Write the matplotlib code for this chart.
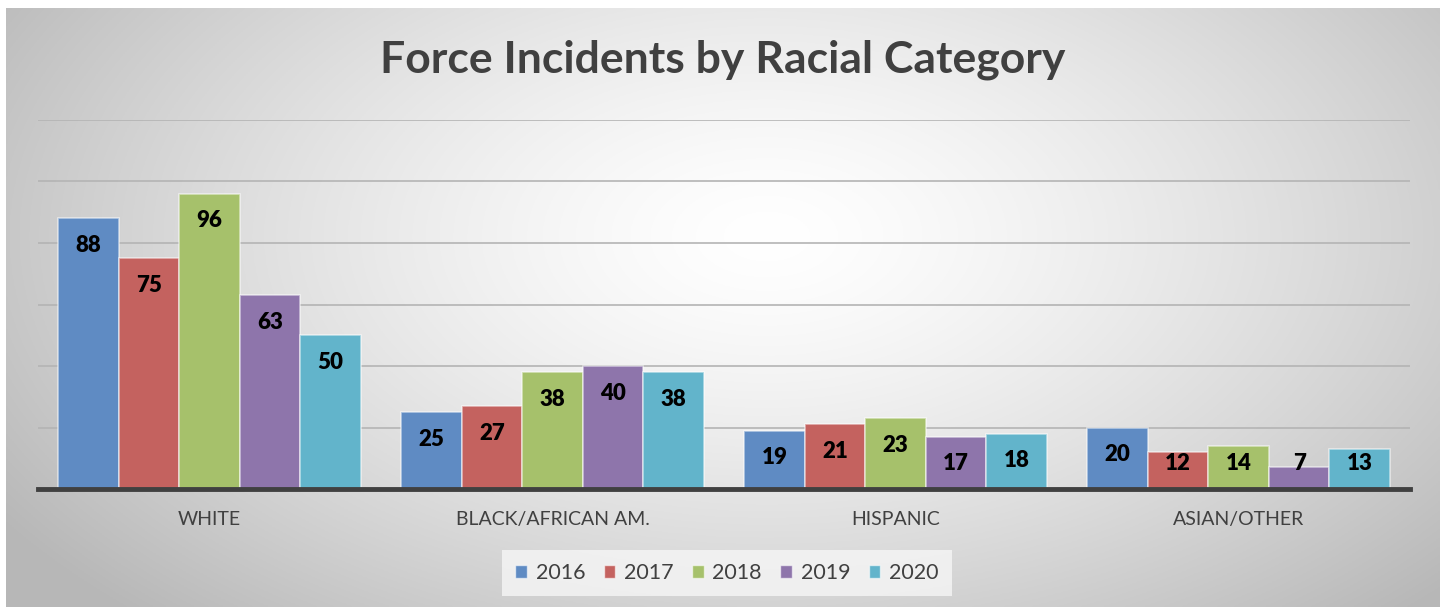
import numpy as np
import matplotlib
matplotlib.use("Agg")
import matplotlib.pyplot as plt
from matplotlib.patches import Patch

categories = ["WHITE", "BLACK/AFRICAN AM.", "HISPANIC", "ASIAN/OTHER"]
years = ["2016", "2017", "2018", "2019", "2020"]
values = {
    "2016": [88, 25, 19, 20],
    "2017": [75, 27, 21, 12],
    "2018": [96, 38, 23, 14],
    "2019": [63, 40, 17, 7],
    "2020": [50, 38, 18, 13],
}
colors = ["#5f8bc3", "#c4625f", "#a6c16b", "#8e75ab", "#62b4cb"]
title = "Force Incidents by Racial Category"

W, H = 1445, 607
fig = plt.figure(figsize=(W / 100, H / 100), dpi=100)
fig.patch.set_facecolor("white")

# radial gradient background
bg = fig.add_axes([6 / W, 0, (1440 - 6) / W, (607 - 8) / H])
bg.set_axis_off()
ny, nx = 300, 700
yy, xx = np.mgrid[0:ny, 0:nx]
cx, cy = 0.53 * nx, 0.38 * ny
d = np.sqrt(((xx - cx) / (0.62 * nx)) ** 2 + ((yy - cy) / (0.85 * ny)) ** 2)
val = 1.0 - 0.27 * np.clip(d, 0, 1.2) ** 1.4
val = np.clip(val, 0.72, 1.0)
img = np.dstack([val, val, val])
bg.imshow(img, aspect="auto", extent=[0, 1, 0, 1], origin="upper")
bg.set_xlim(0, 1)
bg.set_ylim(0, 1)

ax = fig.add_axes([38 / W, (H - 489) / H, (1410 - 38) / W, (489 - 120) / H])
ax.patch.set_alpha(0)
x = np.arange(len(categories))
w = 0.1766
for i, yr in enumerate(years):
    vals = values[yr]
    pos = x + (i - 2) * w
    ax.bar(pos, vals, width=w, color=colors[i], edgecolor=(1, 1, 1, 0.55),
           linewidth=1.2, zorder=3)
    for px, v in zip(pos, vals):
        yc = max(v - 8.8, 8.4)
        ax.text(px, yc, str(v), ha="center", va="center", fontsize=16,
                fontweight="heavy", color="black", family="Lato", zorder=4)

ax.set_xlim(-0.5, len(categories) - 0.5)
ax.set_ylim(0, 120)
ax.set_yticks(np.arange(0, 121, 20))
ax.yaxis.grid(True, color="#b4b4b4", linewidth=1.2, zorder=0)
ax.set_axisbelow(True)
ax.tick_params(axis="y", length=0, labelleft=False)
for s in ["top", "right", "left"]:
    ax.spines[s].set_visible(False)
ax.spines["bottom"].set_color("#404040")
ax.spines["bottom"].set_linewidth(3.5)
ax.spines["bottom"].set_zorder(5)
ax.set_xticks(x)
ax.set_xticklabels(categories, fontsize=14, color="#404040", family="Lato")
ax.tick_params(axis="x", length=0, pad=16)

fig.text(723 / W, 1 - 60 / H, title, ha="center", va="center", fontsize=32,
         fontweight="bold", color="#404040", family="Lato")

handles = [Patch(facecolor=c, edgecolor=(1, 1, 1, 0.6)) for c in colors]
leg = fig.legend(handles, years, loc="center", bbox_to_anchor=(727 / W, 1 - 573 / H),
                 ncol=5, frameon=True, handlelength=0.55,
                 handleheight=0.55, handletextpad=0.4, columnspacing=0.85,
                 prop={"family": "Lato", "size": 15.5}, borderpad=0.6)
leg.get_frame().set_facecolor("#f6f6f6")
leg.get_frame().set_edgecolor("none")
leg.get_frame().set_alpha(0.8)
leg.get_frame().set_boxstyle("square", pad=0.0)
for t in leg.get_texts():
    t.set_color("#404040")

fig.savefig("out.png", dpi=100)
